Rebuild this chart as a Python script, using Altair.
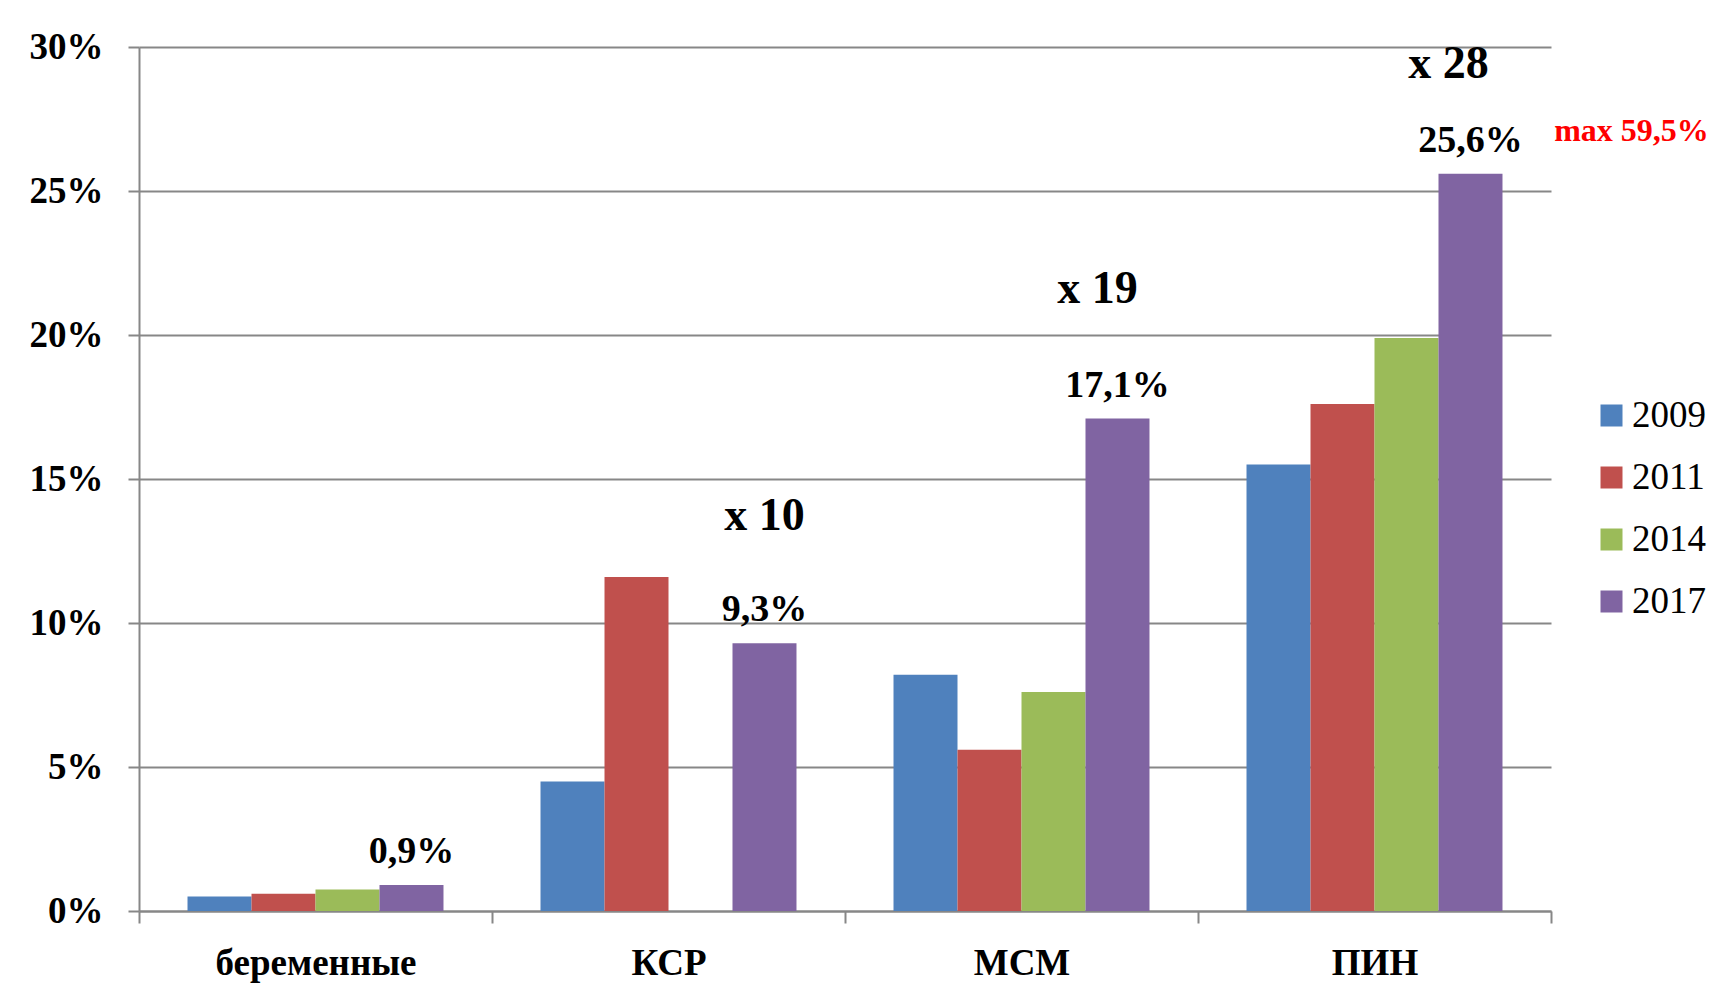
import altair as alt
import pandas as pd

categories = ["беременные", "КСР", "МСМ", "ПИН"]
years = ["2009", "2011", "2014", "2017"]
v2009 = [0.5, 4.5, 8.2, 15.5]
v2011 = [0.6, 11.6, 5.6, 17.6]
v2014 = [0.75, None, 7.6, 19.9]
v2017 = [0.9, 9.3, 17.1, 25.6]
colors = ["#4F81BD", "#C0504D", "#9BBB59", "#8064A2"]

value_labels = ["0,9%", "9,3%", "17,1%", "25,6%"]
mult_cats = ["КСР", "МСМ", "ПИН"]
mult_labels = ["x 10", "x 19", "x 28"]
mult_y = [13.7, 21.6, 29.4]
mult_dx = [0, -20, -22]
max_label = "max 59,5%"
max_y = 27.1

rows = []
for yr, vals in zip(years, [v2009, v2011, v2014, v2017]):
    for c, v in zip(categories, vals):
        if v is not None:
            rows.append({"cat": c, "year": yr, "val": v})
df = pd.DataFrame(rows)

lab_df = pd.DataFrame({"cat": categories, "year": "2017", "val": v2017, "label": value_labels})

FONT = "Liberation Serif"
GRAY = "#878787"

x_enc = alt.X("cat:N", sort=categories, title=None,
              scale=alt.Scale(paddingInner=0, paddingOuter=0),
              axis=alt.Axis(labelFont=FONT, labelFontSize=37, labelFontWeight="bold",
                            labelColor="black", labelAngle=0, labelPadding=22, labelLimit=0,
                            tickBand="extent", tickSize=12, tickColor=GRAY, tickWidth=2,
                            domainColor=GRAY, domainWidth=2, grid=False))
xo_enc = alt.XOffset("year:N", sort=years,
                     scale=alt.Scale(paddingInner=0, paddingOuter=0.758))
y_scale = alt.Scale(domain=[0, 30], nice=False)

bars = alt.Chart(df).mark_bar().encode(
    x=x_enc,
    xOffset=xo_enc,
    y=alt.Y("val:Q", scale=y_scale, title=None,
            axis=alt.Axis(values=[0, 5, 10, 15, 20, 25, 30], labelExpr="datum.value + '%'",
                          labelFont=FONT, labelFontSize=37, labelFontWeight="bold",
                          labelColor="black", labelPadding=25, tickSize=11,
                          tickColor=GRAY, tickWidth=2, domainColor=GRAY, domainWidth=2,
                          gridColor=GRAY, gridWidth=2, gridOpacity=1)),
    color=alt.Color("year:N", sort=years, title=None,
                    scale=alt.Scale(domain=years, range=colors),
                    legend=alt.Legend(orient="none", legendX=1454, legendY=350,
                                      symbolType="square", symbolSize=484,
                                      symbolStrokeWidth=0, labelFont=FONT,
                                      labelFontSize=37, labelColor="black",
                                      labelOffset=2, rowPadding=24, padding=0)),
)

vlabels = alt.Chart(lab_df).mark_text(
    font=FONT, fontSize=38, fontWeight="bold", color="black", baseline="middle", dy=-33
).encode(
    x=alt.X("cat:N", sort=categories),
    xOffset=alt.XOffset("year:N", sort=years),
    y=alt.Y("val:Q", scale=y_scale),
    text="label:N",
)

layers = [bars, vlabels]
for c, t, yv, dx in zip(mult_cats, mult_labels, mult_y, mult_dx):
    d = pd.DataFrame({"cat": [c], "year": ["2017"], "val": [yv], "label": [t]})
    layers.append(
        alt.Chart(d).mark_text(font=FONT, fontSize=46, fontWeight="bold", color="black",
                               baseline="middle", dx=dx).encode(
            x=alt.X("cat:N", sort=categories),
            xOffset=alt.XOffset("year:N", sort=years),
            y=alt.Y("val:Q", scale=y_scale),
            text="label:N",
        )
    )

dmax = pd.DataFrame({"cat": ["ПИН"], "year": ["2017"], "val": [max_y], "label": [max_label]})
layers.append(
    alt.Chart(dmax).mark_text(font=FONT, fontSize=32, fontWeight="bold", color="#FF0000",
                              baseline="middle", dx=161).encode(
        x=alt.X("cat:N", sort=categories),
        xOffset=alt.XOffset("year:N", sort=years),
        y=alt.Y("val:Q", scale=y_scale),
        text="label:N",
    )
)

chart = alt.layer(*layers).properties(
    width=1412, height=864,
    autosize=alt.AutoSizeParams(type="none"),
    padding={"left": 131, "top": 39, "right": 171, "bottom": 79},
    background="white",
).configure_view(stroke=None)

chart.save("out.html", embed_options={"renderer": "svg", "actions": False})
